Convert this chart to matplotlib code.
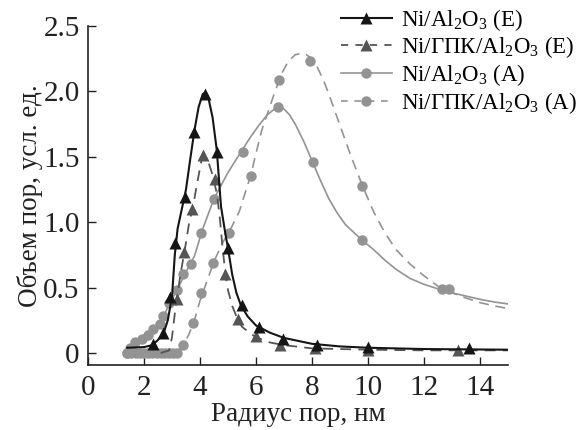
import matplotlib
matplotlib.use("Agg")
import matplotlib.pyplot as plt

plt.rcParams['font.family'] = ['Liberation Serif', 'DejaVu Serif']
plt.rcParams['mathtext.fontset'] = 'custom'
plt.rcParams['mathtext.rm'] = 'Liberation Serif'
plt.rcParams['mathtext.it'] = 'Liberation Serif:italic'

# ---- data ----
labels = ["Ni/Al$_2$O$_3$ (E)", "Ni/ГПК/Al$_2$O$_3$ (E)",
          "Ni/Al$_2$O$_3$ (A)", "Ni/ГПК/Al$_2$O$_3$ (A)"]

# Ni/Al2O3 (E) - markers
e1_x = [2.33, 2.69, 2.93, 3.11, 3.46, 3.79, 4.18, 4.6, 5.01, 5.49, 6.12, 6.98, 8.17, 10.0, 13.6]
e1_y = [0.07, 0.15, 0.43, 0.84, 1.19, 1.69, 1.98, 1.54, 0.8, 0.37, 0.2, 0.105, 0.06, 0.045, 0.04]
# Ni/Al2O3 (E) - fitted curve
e1_cx = [1.4, 2.0, 2.3, 2.5, 2.7, 2.85, 3.0, 3.1, 3.2, 3.35, 3.5, 3.65, 3.8, 3.95, 4.1, 4.2, 4.3,
         4.45, 4.6, 4.75, 4.9, 5.0, 5.15, 5.3, 5.45, 5.7, 6.0, 6.5, 7.0, 8.0, 9.0, 10.0, 12.0, 15.0]
e1_cy = [0.04, 0.045, 0.06, 0.1, 0.15, 0.25, 0.43, 0.75, 0.95, 1.1, 1.25, 1.48, 1.7, 1.88, 1.98,
         1.99, 1.95, 1.8, 1.55, 1.12, 0.92, 0.8, 0.6, 0.46, 0.37, 0.28, 0.21, 0.155, 0.115, 0.07,
         0.05, 0.04, 0.03, 0.025]

# Ni/GPK/Al2O3 (E)
e2_x = [3.18, 3.43, 3.73, 4.12, 4.54, 4.9, 5.37, 6.0, 6.86, 8.1, 10.0, 13.2]
e2_y = [0.41, 0.77, 1.10, 1.51, 1.33, 0.6, 0.26, 0.13, 0.06, 0.035, 0.025, 0.02]
e2_cx = [2.6, 2.9, 3.0, 3.1, 3.2, 3.3, 3.45, 3.6, 3.75, 3.9, 4.05, 4.15, 4.3, 4.45, 4.6, 4.7,
         4.8, 4.9, 5.0, 5.15, 5.3, 5.5, 5.8, 6.0, 6.5, 7.0, 8.0, 10.0, 12.0, 15.0]
e2_cy = [0.0, 0.02, 0.12, 0.3, 0.45, 0.6, 0.78, 0.98, 1.12, 1.3, 1.47, 1.51, 1.46, 1.36, 1.22,
         1.05, 0.82, 0.62, 0.48, 0.36, 0.28, 0.2, 0.15, 0.12, 0.08, 0.06, 0.035, 0.025, 0.02, 0.02]

# Ni/Al2O3 (A)
a1_x = [1.4, 1.5, 1.68, 1.92, 2.15, 2.33, 2.57, 2.69, 2.9, 3.17, 3.4, 3.68, 4.05, 4.51, 5.52,
        6.8, 8.05, 9.78, 12.9]
a1_y = [0.0, 0.04, 0.087, 0.11, 0.14, 0.18, 0.22, 0.28, 0.38, 0.48, 0.6, 0.68, 0.92, 1.18, 1.54,
        1.877, 1.46, 0.86, 0.49]
a1_cx = [1.4, 1.7, 2.0, 2.3, 2.6, 2.9, 3.2, 3.5, 3.8, 4.1, 4.5, 5.0, 5.5, 5.8, 6.1, 6.4, 6.6,
         6.8, 7.0, 7.2, 7.4, 7.7, 8.0, 8.3, 8.6, 8.9, 9.2, 9.5, 9.8, 10.2, 10.6, 11.0, 11.5,
         12.0, 12.5, 13.0, 13.5, 14.0, 14.5, 15.0]
a1_cy = [0.0, 0.08, 0.11, 0.17, 0.24, 0.37, 0.49, 0.62, 0.74, 0.95, 1.18, 1.38, 1.55, 1.65,
         1.74, 1.82, 1.855, 1.875, 1.865, 1.82, 1.75, 1.62, 1.47, 1.32, 1.18, 1.07, 0.98, 0.92,
         0.86, 0.79, 0.71, 0.64, 0.57, 0.525, 0.49, 0.46, 0.435, 0.41, 0.39, 0.375]

# Ni/GPK/Al2O3 (A)
a2_x = [1.4, 1.55, 1.7, 1.85, 2.0, 2.15, 2.3, 2.45, 2.6, 2.75, 2.9, 3.05, 3.17,
        3.4, 3.76, 4.05, 4.48, 5.05, 5.82, 6.82, 7.93, 9.8, 12.63]
a2_y = [0, 0, 0, 0, 0, 0, 0, 0, 0, 0, 0, 0, 0,
        0.06, 0.23, 0.46, 0.69, 0.92, 1.35, 2.09, 2.23, 1.28, 0.49]
a2_cx = [1.4, 2.5, 3.2, 3.4, 3.6, 3.8, 4.0, 4.2, 4.5, 4.8, 5.1, 5.4, 5.8, 6.2, 6.6, 6.9, 7.15,
         7.4, 7.6, 7.8, 8.0, 8.2, 8.4, 8.6, 8.8, 9.0, 9.4, 9.8, 10.2, 10.6, 11.0, 11.5, 12.0,
         12.5, 13.0, 13.5, 14.0, 14.5, 15.0]
a2_cy = [0.0, 0.0, 0.01, 0.06, 0.14, 0.25, 0.4, 0.52, 0.7, 0.84, 0.95, 1.08, 1.35, 1.7, 1.95,
         2.13, 2.23, 2.28, 2.29, 2.28, 2.25, 2.18, 2.09, 1.98, 1.86, 1.74, 1.5, 1.28, 1.08, 0.92,
         0.79, 0.68, 0.59, 0.51, 0.46, 0.42, 0.385, 0.36, 0.34]

x_ticks = [0, 2, 4, 6, 8, 10, 12, 14]
y_ticks = [0, 0.5, 1.0, 1.5, 2.0, 2.5]
y_ticklabels = ["0", "0.5", "1.0", "1.5", "2.0", "2.5"]

# ---- figure ----
fig = plt.figure(figsize=(5.79, 4.30), dpi=100)
ax = fig.add_axes([88/579, 1-365/430, (508-88)/579, (365-26)/430])

c_black = '#151515'
c_dark = '#555555'
c_light = '#939393'

ax.plot(a1_cx, a1_cy, '-', color=c_light, lw=1.2, zorder=2)
ax.plot(a2_cx, a2_cy, '--', color=c_light, lw=1.2, dashes=(6, 4), zorder=2)
ax.plot(e2_cx, e2_cy, '--', color=c_dark, lw=1.3, dashes=(6, 4), zorder=3)
ax.plot(e1_cx, e1_cy, '-', color=c_black, lw=1.5, zorder=4)

ax.plot(a1_x, a1_y, 'o', color=c_light, ms=7.5, mec='none', zorder=2)
ax.plot(a2_x, a2_y, 'o', color=c_light, ms=7.5, mec='none', zorder=2)
ax.plot(e2_x, e2_y, '^', color=c_dark, ms=8, mec='none', zorder=3)
ax.plot(e1_x, e1_y, '^', color=c_black, ms=8, mec='none', zorder=4)

# legend proxies
h1, = ax.plot([], [], '-^', color=c_black, lw=1.5, ms=8, mec='none')
h2, = ax.plot([], [], '--^', color=c_dark, lw=1.3, ms=8, mec='none', dashes=(4, 4))
h3, = ax.plot([], [], '-o', color=c_light, lw=1.2, ms=7.5, mec='none')
h4, = ax.plot([], [], '--o', color=c_light, lw=1.2, ms=7.5, mec='none', dashes=(4, 4))
fig.legend([h1, h2, h3, h4], labels, loc='upper right', bbox_to_anchor=(1.0, 0.99),
           frameon=False, fontsize=16.5, handlelength=2.2, handletextpad=0.4,
           labelspacing=0.08, borderaxespad=0.0, borderpad=0.1)

ax.set_xlim(0, 15)
ax.set_ylim(-0.092, 2.5)
ax.set_xticks(x_ticks)
ax.set_yticks(y_ticks)
ax.set_yticklabels(y_ticklabels)
ax.tick_params(direction='in', length=6, width=1, labelsize=21, colors='#222222')
ax.tick_params(axis='x', pad=7)
ax.tick_params(axis='y', pad=6)
for s in ['top', 'right']:
    ax.spines[s].set_visible(False)
for s in ['left', 'bottom']:
    ax.spines[s].set_linewidth(1.2)
    ax.spines[s].set_color('#222222')
ax.spines['left'].set_bounds(-0.092, 2.5)

ax.set_xlabel("Радиус пор, нм", fontsize=19.5, color='#222222', labelpad=1)
ax.set_ylabel("Объем пор, усл. ед.", fontsize=19.5, color='#222222', labelpad=0)

fig.savefig("out.png", dpi=100)
